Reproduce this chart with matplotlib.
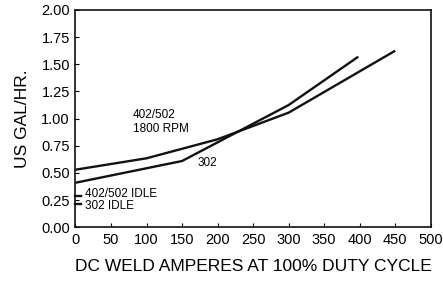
import matplotlib
matplotlib.use("Agg")
import matplotlib.pyplot as plt

# ── Data ───────────────────────────────────────────────────────────────
amps_402 = [0, 100, 200, 300, 450]
gal_402 = [0.53, 0.635, 0.81, 1.055, 1.625]

amps_302 = [0, 150, 300, 398]
gal_302 = [0.41, 0.61, 1.125, 1.57]

idle_402 = 0.29
idle_302 = 0.21

x_ticks = [0, 50, 100, 150, 200, 250, 300, 350, 400, 450, 500]
y_ticks = [0.00, 0.25, 0.50, 0.75, 1.00, 1.25, 1.50, 1.75, 2.00]

plt.rcParams["font.family"] = ["Liberation Sans", "DejaVu Sans"]

fig = plt.figure(figsize=(4.43, 2.88), dpi=100)
ax = fig.add_axes([0.1704, 0.2108, 0.8018, 0.7545])

ax.plot(amps_402, gal_402, color="#111111", linewidth=1.7, solid_capstyle="butt")
ax.plot(amps_302, gal_302, color="#111111", linewidth=1.7, solid_capstyle="butt")

# idle markers: short dashes on the left axis
for v in (idle_402, idle_302):
    ax.plot([0, 8], [v, v], color="#111111", linewidth=1.7, clip_on=False)

ax.text(14, 0.31, "402/502 IDLE", fontsize=8.5, va="center", ha="left")
ax.text(14, 0.195, "302 IDLE", fontsize=8.5, va="center", ha="left")
ax.text(81, 0.97, "402/502\n1800 RPM", fontsize=8.5, va="center", ha="left",
        linespacing=1.3)
ax.text(172, 0.595, "302", fontsize=8.5, va="center", ha="left")

ax.set_xlim(0, 500)
ax.set_ylim(0, 2.0)
ax.set_xticks(x_ticks)
ax.set_yticks(y_ticks)
ax.set_yticklabels([f"{v:.2f}" for v in y_ticks])
ax.tick_params(direction="in", length=3, width=0.8, labelsize=10.5, pad=4)

for s in ax.spines.values():
    s.set_linewidth(1.2)
    s.set_color("#111111")

ax.set_xlabel("DC WELD AMPERES AT 100% DUTY CYCLE", fontsize=12.5, labelpad=9)
ax.set_ylabel("US GAL/HR.", fontsize=12.5, labelpad=8)

fig.savefig("out.png", dpi=100)
